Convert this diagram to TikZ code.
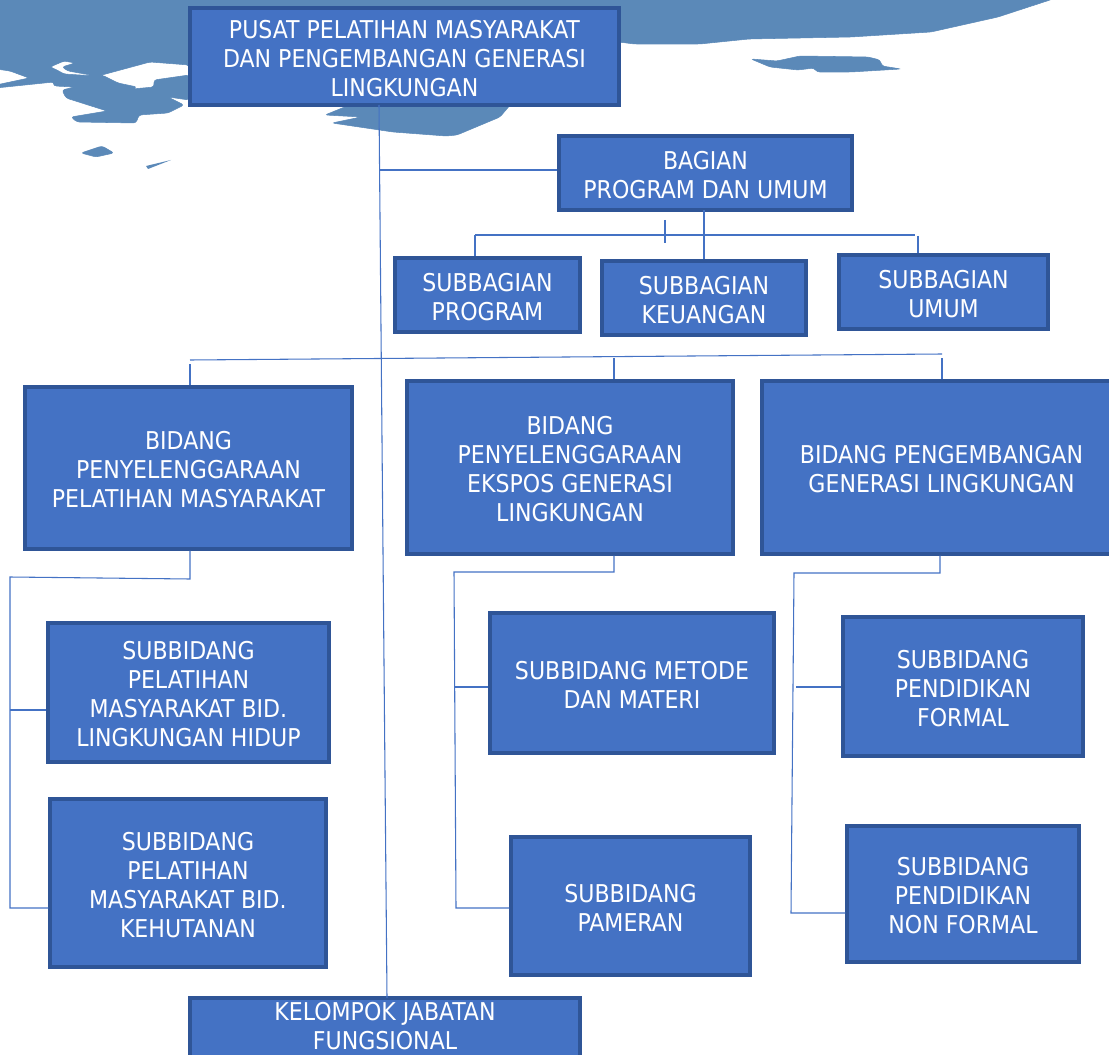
\documentclass[tikz,border=0pt]{standalone}
\usepackage{fontspec}
\setmainfont{DejaVu Sans Condensed}
\definecolor{mapblue}{HTML}{5B89B8}
\definecolor{boxfill}{HTML}{4472C4}
\definecolor{boxedge}{HTML}{2F5597}
\tikzset{
  orgbox/.style={draw=boxedge,fill=boxfill,line width=2.5pt,text=white,inner sep=0pt,align=center,
    font=\fontsize{18.4pt}{21.75pt}\selectfont},
  conn/.style={draw=boxfill,line width=0.8pt},
  land/.style={fill=mapblue,draw=mapblue,line width=0.4pt,rounded corners=2pt}
}
\newcommand{\bx}[6]{\node[orgbox,minimum width={(#4-#2)*0.75pt},minimum height={(#5-#3)*0.75pt}] (#1) at ({(#2+#4)/2},{(#3+#5)/2}) {\raisebox{-8pt}[0pt][0pt]{\begin{tabular}{@{}c@{}}#6\end{tabular}}};}
\begin{document}
\begin{tikzpicture}[x=0.75pt,y=-0.75pt]
\useasboundingbox (0,0) rectangle (1109,1055);
\clip (0,0) rectangle (1109,1055);
% map
\fill[land] (-4,-4) -- (1060,-4) -- (1050,0) -- (998,17) -- (931,32) -- (851,37) -- (749,39) -- (700,44) -- (634,44) -- (619,42) -- (619,100) -- (190,100) -- (189,65) -- (150,62) -- (102,75) -- (96,76) -- (68,71) -- (62,67) -- (75,63) -- (64,61) -- (50,67) -- (57,70) -- (64,74) -- (96,76) -- (102,75) -- (118,83) -- (137,87) -- (132,89) -- (154,87) -- (154,80) -- (189,75) -- (189,100) -- (168,97) -- (184,105) -- (168,113) -- (139,115) -- (136,123) -- (77,122) -- (71,117) -- (107,111) -- (66,98) -- (62,90) -- (75,87) -- (54,86) -- (54,82) -- (-4,88) -- (-4,85) -- (29,78) -- (10,71) -- (-4,69) -- cycle;
\fill[land] (352,104) -- (325,115) -- (361,117) -- (332,123) -- (393,132) -- (446,136) -- (457,135) -- (500,117) -- (511,104) -- cycle;
\fill[land] (81,153) -- (102,146) -- (114,153) -- (96,157) -- cycle;
\fill[mapblue] (146,166) -- (171,160) -- (148,169) -- cycle;
\fill[land] (751,59) -- (777,61) -- (800,56) -- (868,57) -- (880,60) -- (882,66) -- (901,69) -- (851,72) -- (817,72) -- (814,68) -- (798,70) -- (770,67) -- cycle;
% boxes
\bx{pusat}{190}{8}{619}{105}{PUSAT PELATIHAN MASYARAKAT\\DAN PENGEMBANGAN GENERASI\\LINGKUNGAN}
\bx{bagian}{559}{136}{852}{210}{BAGIAN\\PROGRAM DAN UMUM}
\bx{sprogram}{395}{258}{580}{332}{SUBBAGIAN\\PROGRAM}
\bx{skeu}{602}{261}{806}{335}{SUBBAGIAN\\KEUANGAN}
\bx{sumum}{839}{255}{1048}{329}{SUBBAGIAN\\UMUM}
\bx{bid1}{25}{387}{352}{549}{BIDANG\\PENYELENGGARAAN\\PELATIHAN MASYARAKAT}
\bx{bid2}{407}{381}{733}{554}{BIDANG\\PENYELENGGARAAN\\EKSPOS GENERASI\\LINGKUNGAN}
\bx{bid3}{762}{381}{1121}{554}{BIDANG PENGEMBANGAN\\GENERASI LINGKUNGAN}
\bx{sb1a}{48}{623}{329}{762}{SUBBIDANG\\PELATIHAN\\MASYARAKAT BID.\\LINGKUNGAN HIDUP}
\bx{sb1b}{50}{799}{326}{967}{SUBBIDANG\\PELATIHAN\\MASYARAKAT BID.\\KEHUTANAN}
\bx{sb2a}{490}{613}{774}{753}{SUBBIDANG METODE\\DAN MATERI}
\bx{sb2b}{511}{837}{750}{975}{SUBBIDANG\\PAMERAN}
\bx{sb3a}{843}{617}{1083}{756}{SUBBIDANG\\PENDIDIKAN\\FORMAL}
\bx{sb3b}{847}{826}{1079}{962}{SUBBIDANG\\PENDIDIKAN\\NON FORMAL}
\bx{kel}{190}{998}{580}{1058}{}
\node[orgbox,draw=none,fill=none] (keltext) at (385,1026) {KELOMPOK JABATAN\\FUNGSIONAL};
% connector points
\coordinate (mt) at (379,105);
\coordinate (mb) at (387,998);
\coordinate (mj) at (379,170);
\coordinate (ba) at (475,235);
\coordinate (bb) at (915,235);
\coordinate (bc) at (665,220);
\coordinate (bd) at (665,243);
\coordinate (be) at (918,236);
\coordinate (bf) at (704,210);
\coordinate (la) at (190,360);
\coordinate (lb) at (942,354);
\coordinate (lc) at (190,364);
\coordinate (ld) at (614,358);
\coordinate (le) at (942,358);
\coordinate (a1) at (190,579);
\coordinate (a2) at (10,577);
\coordinate (a3) at (10,908);
\coordinate (a4) at (10,710);
\coordinate (b1) at (614,572);
\coordinate (b2) at (454,572);
\coordinate (b3) at (456,908);
\coordinate (b4) at (455,687);
\coordinate (c1) at (940,573);
\coordinate (c2) at (794,573);
\coordinate (c3) at (791,913);
\coordinate (c4) at (796,687);
% connectors
\draw[conn] (mt) -- (mb);
\draw[conn] (mj) -- (mj -| bagian.west);
\draw[conn] (ba) -- (bb);
\draw[conn] (ba) -- (ba |- sprogram.north);
\draw[conn] (bc) -- (bd);
\draw[conn] (bf) -- (bf |- skeu.north);
\draw[conn] (be) -- (be |- sumum.north);
\draw[conn] (la) -- (lb);
\draw[conn] (lc) -- (lc |- bid1.north);
\draw[conn] (ld) -- (ld |- bid2.north);
\draw[conn] (le) -- (le |- bid3.north);
\draw[conn] (a1 |- bid1.south) -- (a1) -- (a2) -- (a3) -- (a3 -| sb1b.west);
\draw[conn] (a4) -- (a4 -| sb1a.west);
\draw[conn] (b1 |- bid2.south) -- (b1) -- (b2) -- (b3) -- (b3 -| sb2b.west);
\draw[conn] (b4) -- (b4 -| sb2a.west);
\draw[conn] (c1 |- bid3.south) -- (c1) -- (c2) -- (c3) -- (c3 -| sb3b.west);
\draw[conn] (c4) -- (c4 -| sb3a.west);
\end{tikzpicture}
\end{document}
